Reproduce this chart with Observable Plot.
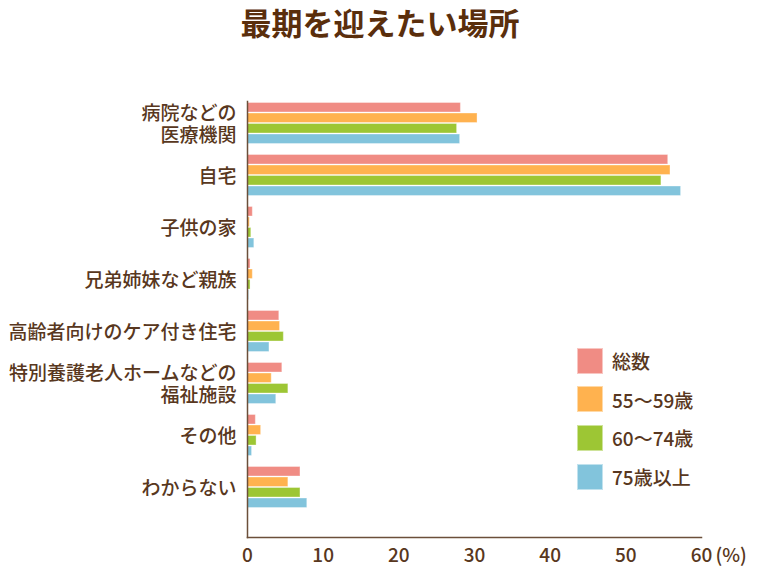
<!DOCTYPE html>
<html><head><meta charset="utf-8">
<script src="https://cdn.jsdelivr.net/npm/d3@7"></script>
<script src="https://cdn.jsdelivr.net/npm/@observablehq/plot@0.6"></script>
<style>
body{margin:0;background:#fff;}
#wrap{position:relative;width:760px;height:570px;font-family:'Noto Sans CJK JP',sans-serif;color:#583720;}
#title{height:50px;line-height:44px;text-align:center;font-size:31px;font-weight:700;color:#5a2e0c;}
.leg{position:absolute;display:flex;align-items:center;font-size:19px;font-weight:500;color:#583720;white-space:nowrap;}
.sw{width:26px;height:26px;margin-right:9px;box-sizing:border-box;}
</style></head><body>
<div id="wrap"><div id="title">最期を迎えたい場所</div><div id="chart"></div><div id="legend"></div></div>
<script>
const categories = ["病院などの\n医療機関", "自宅", "子供の家", "兄弟姉妹など親族", "高齢者向けのケア付き住宅", "特別養護老人ホームなどの\n福祉施設", "その他", "わからない"];
const series = ["総数", "55～59歳", "60～74歳", "75歳以上"];
const colors = ["#f08c84", "#ffb24f", "#9dc634", "#82c4dc"];
const total = [28.2, 55.6, 0.7, 0.4, 4.2, 4.6, 1.1, 7.0];
const age55 = [30.4, 55.9, 0.3, 0.7, 4.3, 3.2, 1.8, 5.4];
const age60 = [27.7, 54.7, 0.5, 0.4, 4.8, 5.4, 1.2, 7.0];
const age75 = [28.1, 57.3, 0.9, 0.2, 2.9, 3.8, 0.6, 7.9];
const xTicks = [0, 10, 20, 30, 40, 50, 60];
const unitLabel = "(%)";

const seriesValues = [total, age55, age60, age75];
const rows = [];
series.forEach((s, j) => categories.forEach((c, i) => rows.push({category: c, series: s, j, value: seriesValues[j][i]})));

const band = 52, barH = 9.5, gap = 1;
const groupH = 4 * barH + 3 * gap;
const barMarks = series.map((s, j) => {
  const top = (band - groupH) / 2 + j * (barH + gap);
  return Plot.barX(rows.filter(d => d.j === j), {
    y: "category", x: "value", fill: colors[j],
    insetTop: top, insetBottom: band - top - barH,
    stroke: "#ffffff", strokeOpacity: 0.35, strokeWidth: 1
  });
});

const chart = Plot.plot({
  width: 760, height: 520,
  marginLeft: 247, marginRight: 59, marginTop: 51, marginBottom: 33,
  style: {fontFamily: "'Noto Sans CJK JP', sans-serif", fontSize: "19px", fontWeight: 500, color: "#583720", background: "#fff"},
  x: {domain: [0, 60], label: null},
  y: {type: "band", domain: categories, range: [47, 463], padding: 0, label: null},
  marks: [
    ...barMarks,
    Plot.frame({anchor: "left", stroke: "#6b4f3a", strokeWidth: 1.5}),
    Plot.frame({anchor: "bottom", stroke: "#6b4f3a", strokeWidth: 1.5}),
    Plot.axisY({tickSize: 0, tickPadding: 11, fontSize: 19, lineHeight: 1.16, label: null, fill: "#583720"}),
    Plot.axisX({ticks: xTicks, tickSize: 0, tickPadding: 11, fontSize: 19, label: null, fill: "#583720"}),
    Plot.text([unitLabel], {x: () => xTicks[xTicks.length - 1], text: d => d, frameAnchor: "bottom", lineAnchor: "top", dy: 11, dx: 14, textAnchor: "start", fontSize: 19, fill: "#583720"})
  ]
});
document.getElementById("chart").append(chart);

const legend = document.getElementById("legend");
series.forEach((s, j) => {
  const item = document.createElement("div");
  item.className = "leg";
  item.style.left = "577px";
  item.style.top = (347 + j * 38.7) + "px";
  const sw = document.createElement("div");
  sw.className = "sw";
  sw.style.background = colors[j];
  sw.style.border = "1px solid rgba(255,255,255,0.5)";
  const t = document.createElement("span");
  t.textContent = s;
  item.append(sw, t);
  legend.append(item);
});
</script></body></html>
